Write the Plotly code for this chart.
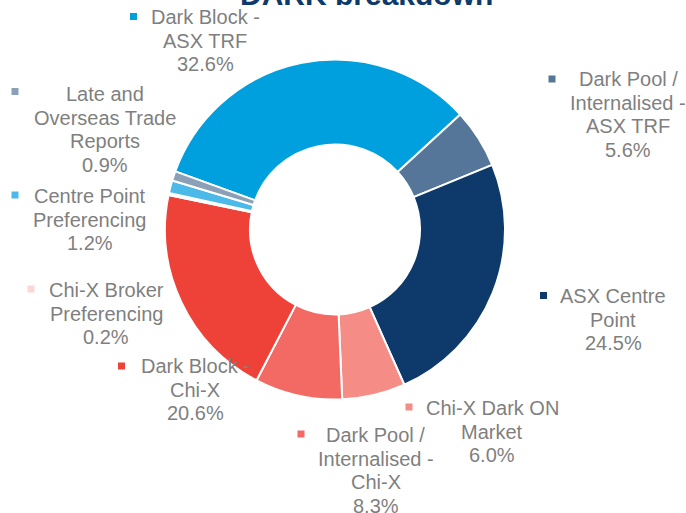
import plotly.graph_objects as go

W, H = 686, 513

# ---- data ----
categories = [
    "Dark Block - ASX TRF",
    "Dark Pool / Internalised - ASX TRF",
    "ASX Centre Point",
    "Chi-X Dark ON Market",
    "Dark Pool / Internalised - Chi-X",
    "Dark Block - Chi-X",
    "Chi-X Broker Preferencing",
    "Centre Point Preferencing",
    "Late and Overseas Trade Reports",
]
label_lines = [
    ["Dark Block -", "ASX TRF"],
    ["Dark Pool /", "Internalised -", "ASX TRF"],
    ["ASX Centre", "Point"],
    ["Chi-X Dark ON", "Market"],
    ["Dark Pool /", "Internalised -", "Chi-X"],
    ["Dark Block -", "Chi-X"],
    ["Chi-X Broker", "Preferencing"],
    ["Centre Point", "Preferencing"],
    ["Late and", "Overseas Trade", "Reports"],
]
values = [32.6, 5.6, 24.5, 6.0, 8.3, 20.6, 0.2, 1.2, 0.9]
colors = ["#00A0DF", "#557699", "#0D3A6B", "#F58C86", "#F26A63",
          "#EE4238", "#FCD6D4", "#4CBAE8", "#8B9FB7"]

# ---- layout helpers (pixel positions: label centre x / first line y, key squares) ----
label_pos = [(205, 17), (628, 79), (613, 296), (492, 408), (376, 435),
             (195, 366), (106, 290), (90, 196), (105, 94)]
key_pos = [(133.5, 16.5), (552, 79), (543.5, 295.5), (409, 407), (301, 434),
           (121.5, 366), (31, 289), (15, 195), (15, 91.5)]
key_size = 7
line_gap = 23.7

cx, cy, r = 335, 229.5, 170

fig = go.Figure(go.Pie(
    labels=categories,
    values=values,
    sort=False,
    direction="clockwise",
    rotation=-70,
    hole=0.5,
    marker=dict(colors=colors, line=dict(color="white", width=2)),
    textinfo="none",
    showlegend=False,
    domain=dict(x=[(cx - r) / W, (cx + r) / W],
                y=[(H - cy - r) / H, (H - cy + r) / H]),
))

FONT = "Liberation Sans, Arial, sans-serif"
annotations = []
shapes = []
for lines, v, (lx, ly), (kx, ky), col in zip(label_lines, values, label_pos, key_pos, colors):
    all_lines = lines + [f"{v:.1f}%"]
    for i, t in enumerate(all_lines):
        annotations.append(dict(
            x=lx / W, y=1 - (ly + i * line_gap) / H, xref="paper", yref="paper",
            xanchor="center", yanchor="middle", align="center",
            text=t, showarrow=False,
            font=dict(family=FONT, size=20, color="#7F7F7F"),
        ))
    shapes.append(dict(
        type="rect", xref="paper", yref="paper",
        x0=(kx - key_size / 2) / W, x1=(kx + key_size / 2) / W,
        y0=1 - (ky + key_size / 2) / H, y1=1 - (ky - key_size / 2) / H,
        fillcolor=col, line=dict(width=0),
    ))

annotations.append(dict(
    x=366 / W, y=1, xref="paper", yref="paper",
    xanchor="center", yanchor="bottom", yshift=-13,
    text="<b>DARK breakdown</b>", showarrow=False,
    font=dict(family=FONT, size=30, color="#0D3A6B"),
))

fig.update_layout(
    width=W, height=H,
    margin=dict(l=0, r=0, t=0, b=0),
    paper_bgcolor="white", plot_bgcolor="white",
    annotations=annotations, shapes=shapes,
)

fig.write_html("out.html")
